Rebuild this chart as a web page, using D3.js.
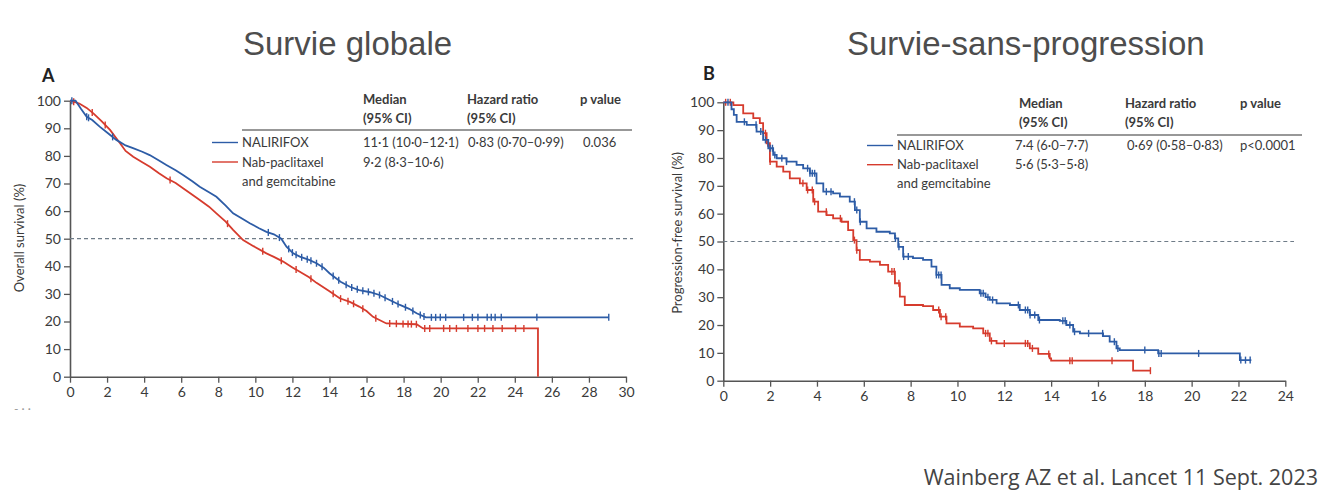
<!DOCTYPE html>
<html><head><meta charset="utf-8">
<script src="https://cdn.jsdelivr.net/npm/d3@7"></script>
<style>
html,body{margin:0;padding:0;background:#fff;}
svg{display:block;}
</style></head>
<body>
<svg id="c" width="1325" height="493"></svg>
<script>
// ---------- DATA ----------
const seriesNames = ["NALIRIFOX", "Nab-paclitaxel", "and gemcitabine"];
const osTicksX = [0,2,4,6,8,10,12,14,16,18,20,22,24,26,28,30];
const pfsTicksX = [0,2,4,6,8,10,12,14,16,18,20,22,24];
const yTicks = [0,10,20,30,40,50,60,70,80,90,100];

// Overall survival (months, %)
const osBlue = [[0,100],[0.3,100],[0.6,97],[0.9,94.2],[1.2,93],[1.6,90.6],[2.0,88.5],[2.5,85.8],[3.0,83.8],[3.4,82.8],[3.9,81.5],[4.3,80.3],[4.8,78.3],[5.2,76.7],[5.7,74.8],[6.1,73.1],[6.6,70.8],[7.0,68.8],[7.5,66.8],[7.9,65.2],[8.4,62],[8.8,59.2],[9.3,57.2],[9.7,55.6],[10.2,53.8],[10.6,52.5],[11.0,51.6],[11.4,50],[11.68,47.1],[12.04,44.7],[12.4,43.5],[12.9,42.3],[13.3,41.1],[13.7,39.4],[14.0,37.5],[14.6,34.4],[15.1,32.6],[15.6,31.4],[16.2,30.6],[16.7,29.6],[17.3,27.6],[17.8,26],[18.3,24.6],[18.7,23],[19.2,21.5],[29.07,21.5]];
const osRed = [[0,100],[0.5,99],[0.9,97.4],[1.26,95.4],[1.7,92.6],[2.16,89.4],[2.7,84.6],[3.0,81.8],[3.41,79.7],[3.9,77.7],[4.31,76.1],[4.8,73.7],[5.21,71.9],[5.7,70.2],[6.1,68.3],[6.6,65.9],[7.0,64],[7.5,61.6],[7.9,59.2],[8.4,56.2],[8.8,53.2],[9.34,49.5],[9.9,47.3],[10.6,44.7],[11.0,43.4],[11.5,41.7],[12.0,39.6],[12.4,38],[12.9,36],[13.3,34],[14.0,31],[14.55,28.4],[15.1,27.1],[15.6,25.4],[16.0,23.8],[16.35,21.7],[17.07,19.3],[18.7,19.0],[19.05,17.5],[25.25,17.5],[25.25,0]];
const osBlueCensor = [0.1,0.9,1.0,2.3,10.7,11.3,11.8,12.0,12.2,12.5,12.8,13.0,13.3,13.6,14.2,14.5,14.9,15.2,15.5,15.8,16.1,16.4,16.7,17.0,17.4,17.7,18.1,18.5,18.9,19.1,19.5,19.73,19.98,20.27,21.24,21.71,22.01,22.51,22.73,22.94,23.27,25.19,29.07];
const osRedCensor = [0.2,1.2,1.9,5.4,8.5,10.4,11.4,12.2,13.0,14.2,14.6,15.0,15.3,15.8,16.5,17.25,17.61,17.97,18.24,18.42,18.69,19.14,19.41,20.16,20.49,20.85,21.47,22.01,22.37,22.82,23.32,24.04,24.49];

// Progression-free survival (months, %)
const pfsBlue = [[0,100],[0.2,100],[0.35,97.5],[0.45,95.5],[0.57,93],[1.0,91.9],[1.42,89.5],[1.7,86.5],[1.92,83.5],[2.13,81.1],[2.28,79.9],[2.7,78.7],[3.13,77.5],[3.41,76.3],[3.7,74.5],[3.98,70.9],[4.27,67.9],[4.69,67.3],[4.98,66.1],[5.4,64.3],[5.62,61.3],[5.83,57.1],[6.12,54.7],[6.54,53.5],[7.11,52.9],[7.33,51.1],[7.47,48.1],[7.68,44.6],[8.1,44],[8.53,43.4],[8.89,41],[9.1,38],[9.32,34.4],[9.67,33.2],[10.1,32.6],[10.95,31.4],[11.2,30],[11.38,29],[11.67,27.8],[12.24,27.2],[12.66,25.4],[13.09,23.6],[13.45,21.8],[14.37,21.5],[14.65,20],[14.94,17.6],[15.23,17.0],[16.22,16.0],[16.5,14],[16.79,11.6],[16.93,11.0],[18.57,9.8],[22.06,7.4],[22.55,7.4]];
const pfsRed = [[0,100],[0.2,100],[0.43,99],[0.85,96],[1.28,94.3],[1.56,92.5],[1.7,88.9],[1.85,85.3],[1.99,78.7],[2.28,76.9],[2.56,75.1],[2.84,72.7],[3.27,70.9],[3.56,68.5],[3.84,64.3],[4.05,60.7],[4.41,59.5],[4.69,58.3],[5.05,57.1],[5.33,54.1],[5.55,50.5],[5.69,46.9],[5.83,43.4],[6.26,42.8],[6.69,41.6],[7.04,39.2],[7.33,35],[7.54,30.2],[7.75,27.2],[8.53,26.8],[8.96,25.4],[9.25,23],[9.53,20.6],[10.1,19.4],[10.67,18.8],[11.1,17],[11.38,14.3],[11.67,13.4],[13.09,11.6],[13.45,9.6],[13.94,8.0],[14.0,7.2],[17.5,3.6],[18.24,3.6]];
const pfsBlueCensor = [0.2,0.9,1.4,1.6,1.8,2.0,2.1,2.2,2.5,2.7,3.6,3.7,3.8,3.9,4.4,4.6,5.6,5.7,5.85,7.35,7.5,7.7,7.9,9.1,9.2,9.3,11.0,11.1,11.3,11.5,12.6,12.9,13.0,13.1,13.3,13.5,14.5,14.6,14.8,15.0,15.6,16.2,16.7,16.85,18.0,18.6,18.7,20.3,22.1,22.3,22.5];
const pfsRedCensor = [0.1,0.3,1.8,1.9,2.0,3.4,3.6,3.8,3.9,4.4,5.0,5.6,5.7,7.2,7.3,7.5,9.2,9.3,9.5,11.2,11.3,11.45,12.0,12.9,13.0,13.2,13.9,14.8,14.9,16.6,18.24];

const osTable = {
  headers: [["Median","(95% CI)"],["Hazard ratio","(95% CI)"],["p value",""]],
  rows: [["11·1 (10·0–12·1)","0·83 (0·70–0·99)","0.036"],["9·2 (8·3–10·6)","",""]]
};
const pfsTable = {
  headers: [["Median","(95% CI)"],["Hazard ratio","(95% CI)"],["p value",""]],
  rows: [["7·4 (6·0–7·7)","0·69 (0·58–0·83)","p<0.0001"],["5·6 (5·3–5·8)","",""]]
};

// ---------- DRAW ----------
const BLUE = "#2d5ca6", RED = "#d63b2d", AX = "#555", TXT = "#3a3a3a";
const svg = d3.select("#c");
svg.append("rect").attr("width",1325).attr("height",493).attr("fill","#fff");

function survAt(data, t, linear){
  let v = data[0][1];
  for (let i=0;i<data.length;i++){
    if (data[i][0] <= t) v = data[i][1];
    else {
      if (linear && i>0){
        const a=data[i-1], b=data[i];
        v = a[1] + (b[1]-a[1])*(t-a[0])/(b[0]-a[0]);
      }
      break;
    }
  }
  return v;
}

function panel(cfg){
  const g = svg.append("g");
  const x = d3.scaleLinear().domain(cfg.xDomain).range(cfg.xRange);
  const y = d3.scaleLinear().domain([0,100]).range(cfg.yRange);

  const xa = g.append("g").attr("transform",`translate(0,${cfg.yRange[0]})`)
    .call(d3.axisBottom(x).tickValues(cfg.xTicks).tickSize(6).tickPadding(4).tickSizeOuter(0));
  const ya = g.append("g").attr("transform",`translate(${cfg.xRange[0]},0)`)
    .call(d3.axisLeft(y).tickValues(yTicks).tickSize(6).tickPadding(3).tickSizeOuter(0));
  [xa,ya].forEach(a=>{
    a.select(".domain").attr("stroke",AX).attr("stroke-width",1.6);
    a.selectAll(".tick line").attr("stroke",AX).attr("stroke-width",1.3);
    a.selectAll(".tick text").attr("fill",TXT).style("font-family","Lato, 'Open Sans', sans-serif").style("font-size","14px");
  });

  g.append("line").attr("x1",x(0)).attr("x2",cfg.dashEnd).attr("y1",y(50)).attr("y2",y(50))
    .attr("stroke","#6f7c88").attr("stroke-width",1.2).attr("stroke-dasharray","4,3");

  const curve = cfg.linear ? d3.curveLinear : d3.curveStepAfter;
  const line = d3.line().x(d=>x(d[0])).y(d=>y(d[1])).curve(curve);
  [[cfg.red,RED,cfg.redC],[cfg.blue,BLUE,cfg.blueC]].forEach(([data,col,cens])=>{
    g.append("path").datum(data).attr("d",line).attr("fill","none").attr("stroke",col).attr("stroke-width",1.8);
    g.selectAll(null).data(cens).enter().append("line")
      .attr("x1",d=>x(d)).attr("x2",d=>x(d))
      .attr("y1",d=>y(survAt(data,d,cfg.linear))-3.5).attr("y2",d=>y(survAt(data,d,cfg.linear))+3.5)
      .attr("stroke",col).attr("stroke-width",1.4);
  });

  g.append("text").attr("transform",`translate(${cfg.labelX},${cfg.labelY}) rotate(-90)`)
    .attr("text-anchor","middle").attr("fill",TXT)
    .style("font-family","Lato, 'Open Sans', sans-serif").style("font-size","13px").text(cfg.yLabel);

  g.append("text").attr("x",cfg.letterX).attr("y",cfg.letterY).attr("fill","#222")
    .style("font-family","Lato, sans-serif").style("font-weight","bold").style("font-size","18px").text(cfg.letter);

  g.append("text").attr("x",cfg.titleX).attr("y",55).attr("fill","#4d4d4d")
    .style("font-family","'Liberation Sans', Arial, sans-serif").style("font-size","33px").text(cfg.title);

  const T = cfg.table, L = cfg.leg;
  const tf = s => s.style("font-family","Lato, 'Open Sans', sans-serif").style("font-size","13px").attr("fill",TXT);
  T.headers.forEach((h,i)=>{
    h.forEach((s,j)=>{
      tf(g.append("text").attr("x",L.cols[i]).attr("y",L.hy + j*19).style("font-weight","bold").text(s));
    });
  });
  g.append("line").attr("x1",L.textX).attr("x2",L.lineEnd).attr("y1",L.ruleY).attr("y2",L.ruleY)
    .attr("stroke","#333").attr("stroke-width",1.2);
  [BLUE,RED].forEach((c,i)=>{
    g.append("line").attr("x1",L.swX).attr("x2",L.swX+26).attr("y1",L.r0 + i*L.dy - 4.5).attr("y2",L.r0 + i*L.dy - 4.5)
      .attr("stroke",c).attr("stroke-width",1.4);
  });
  seriesNames.forEach((n,i)=>{ tf(g.append("text").attr("x",L.textX).attr("y",L.r0 + i*L.dy).text(n)); });
  T.rows.forEach((r,i)=>{
    r.forEach((s,j)=>{ if(s) tf(g.append("text").attr("x",L.vals[j]).attr("y",L.r0 + i*L.dy).text(s)); });
  });
}

panel({
  xDomain:[0,30], xRange:[70,626], yRange:[376.7,100.7], xTicks: osTicksX, linear:true,
  blue: osBlue, red: osRed, blueC: osBlueCensor, redC: osRedCensor, dashEnd: 633,
  yLabel:"Overall survival (%)", labelX:24, labelY:238, letter:"A", letterX:42, letterY:82,
  title:"Survie globale", titleX:243,
  table: osTable,
  leg:{cols:[363,467,580], hy:104, ruleY:130, lineEnd:632, swX:212, textX:242, r0:147, dy:19.5, vals:[363,468,583]}
});
panel({
  xDomain:[0,24], xRange:[723.3,1285.3], yRange:[380.7,102.3], xTicks: pfsTicksX, linear:false,
  blue: pfsBlue, red: pfsRed, blueC: pfsBlueCensor, redC: pfsRedCensor, dashEnd: 1294,
  yLabel:"Progression-free survival (%)", labelX:682, labelY:233, letter:"B", letterX:703, letterY:80,
  title:"Survie-sans-progression", titleX:847,
  table: pfsTable,
  leg:{cols:[1019,1125,1240], hy:108, ruleY:135, lineEnd:1302, swX:867, textX:897, r0:150, dy:19.2, vals:[1015,1127,1240]}
});

svg.append("text").attr("x",14).attr("y",413).attr("fill","#999").style("font-family","Lato, sans-serif").style("font-size","12px").text("- · ·");
svg.append("text").attr("x",1318).attr("y",485).attr("text-anchor","end").attr("fill","#444")
  .style("font-family","'Open Sans', sans-serif").style("font-size","21.5px").text("Wainberg AZ et al. Lancet 11 Sept. 2023");
</script>
</body></html>
